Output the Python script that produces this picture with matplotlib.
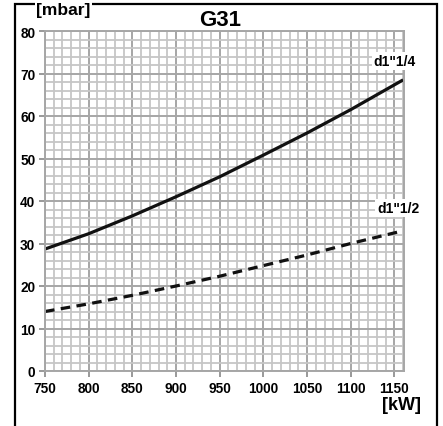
import matplotlib
matplotlib.use("Agg")
import matplotlib.pyplot as plt
from matplotlib.patches import Rectangle
from matplotlib.ticker import MultipleLocator

plt.rcParams['font.family'] = ['Liberation Sans', 'DejaVu Sans']

power_kw = [750, 800, 850, 900, 950, 1000, 1050, 1100, 1160]
d114 = [28.7, 32.3, 36.5, 41.0, 45.7, 50.8, 56.0, 61.5, 68.5]
d112 = [14.0, 15.8, 17.8, 20.0, 22.3, 24.8, 27.3, 30.0, 33.0]
x_ticks = [750, 800, 850, 900, 950, 1000, 1050, 1100, 1150]
y_ticks = [0, 10, 20, 30, 40, 50, 60, 70, 80]

fig = plt.figure(figsize=(4.43, 4.27), dpi=100)
fig.patches.append(Rectangle((15/443, -0.01), (437-15)/443, 1-5/427+0.01,
                             transform=fig.transFigure, fill=False,
                             edgecolor='black', linewidth=1.6))
ax = fig.add_axes([45/443, 1-372/427, (404-45)/443, (372-32)/427])
ax.set_xlim(750, 1161)
ax.set_ylim(0, 80)
ax.xaxis.set_minor_locator(MultipleLocator(10))
ax.yaxis.set_minor_locator(MultipleLocator(2))
ax.set_xticks(x_ticks)
ax.set_yticks(y_ticks)
ax.grid(which='minor', color='#c6c6c6', linewidth=1.3)
ax.grid(which='major', color='#a6a6a6', linewidth=1.4)
ax.set_axisbelow(True)
for s in ax.spines.values():
    s.set_color('#a6a6a6')
    s.set_linewidth(1.4)
ax.tick_params(which='major', length=4, width=1.2, color='#888888', labelsize=9.8, pad=3)
ax.tick_params(which='minor', length=0)
for lab in ax.get_xticklabels() + ax.get_yticklabels():
    lab.set_fontweight('bold')

ax.plot(power_kw, d114, color='#111111', linewidth=2.3, solid_capstyle='butt')
ax.plot(power_kw, d112, color='#111111', linewidth=2.3, linestyle=(0, (3, 2)))

bbox = dict(facecolor='white', edgecolor='none', pad=1.5)
ax.text(416/443, 1-62/427, 'd1"1/4', transform=fig.transFigure, ha='right', va='center',
        fontsize=10, fontweight='bold', bbox=bbox)
ax.text(419/443, 1-209/427, 'd1"1/2', transform=fig.transFigure, ha='right', va='center',
        fontsize=10, fontweight='bold', bbox=bbox)

fig.text(220/443, 1-20/427, 'G31', ha='center', va='center', fontsize=16, fontweight='bold')
fig.text(36/443, 1-11/427, '[mbar]', ha='left', va='center', fontsize=12.5, fontweight='bold',
         bbox=dict(facecolor='white', edgecolor='none', pad=1.0), zorder=5)
fig.text(421/443, 1-406/427, '[kW]', ha='right', va='center', fontsize=13, fontweight='bold')

fig.savefig('out.png', dpi=100)
